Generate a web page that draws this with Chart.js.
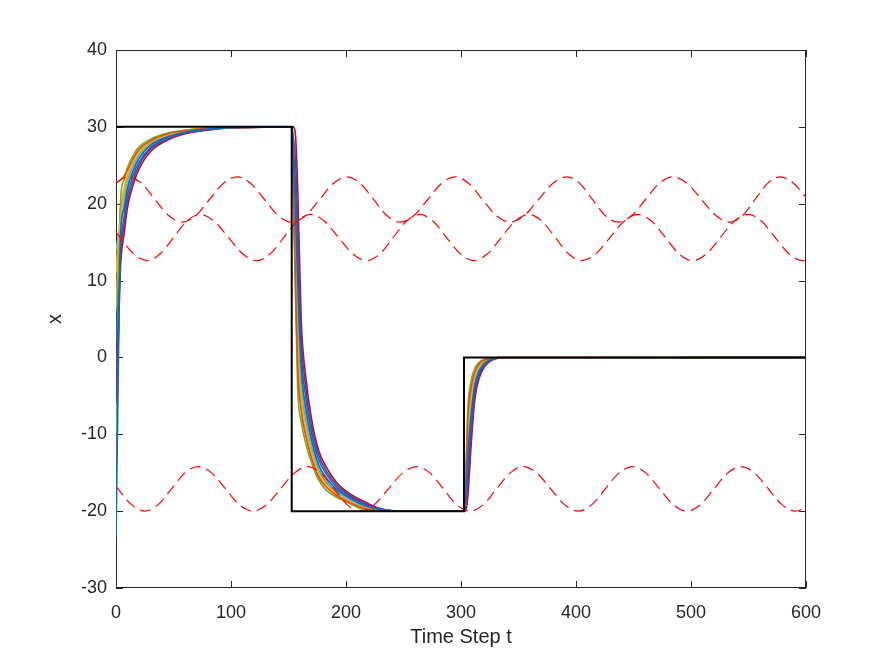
<!DOCTYPE html>
<html>
<head>
<meta charset="utf-8">
<script src="https://cdn.jsdelivr.net/npm/chart.js@4.4.0/dist/chart.umd.min.js"></script>
<style>
  html, body { margin: 0; padding: 0; background: #fff; }
  #wrap { width: 892px; height: 661px; }
</style>
</head>
<body>
<div id="wrap"><canvas id="chart" width="892" height="661"></canvas></div>
<script>
// ---- data ----
// shared time grid for the agent trajectories
const stepTimes = [0, 2, 4, 7, 10, 15, 20, 30, 45, 60, 80, 100, 152.8,
  154, 156, 158, 161, 165, 170, 176, 183, 192, 202, 215, 230, 250, 302.6,
  304, 306, 309, 312, 316, 321, 327, 335, 600];

const trajBlue = [-23.5, -1.7, 16.1, 19.4, 22.0, 24.3, 25.9, 27.6, 28.7, 29.3, 29.7, 29.9, 30,
  26.4, 19.3, 9.6, -1.3, -6.6, -10.7, -13.9, -15.7, -17.2, -18.2, -19.2, -19.8, -20, -20,
  -18.2, -12.6, -7.2, -3.6, -1.7, -0.7, -0.2, -0.04, 0];
const trajOrange = [22.8, 22.9, 23.1, 23.6, 24.4, 25.9, 27.1, 28.2, 29.1, 29.5, 29.8, 29.9, 30,
  23.2, 10.7, -1.4, -6.9, -10.2, -13.1, -15.5, -16.9, -18.0, -18.8, -19.6, -19.9, -20, -20,
  -16.6, -7.8, -3.8, -1.9, -0.8, -0.3, -0.08, 0, 0];
const trajYellow = [11, 15.4, 18.3, 21.3, 23.4, 25.3, 26.6, 28.0, 28.9, 29.5, 29.8, 29.9, 30,
  24.4, 14.0, 2.8, -4.8, -8.9, -12.2, -14.9, -16.5, -17.7, -18.6, -19.5, -19.9, -20, -20,
  -17.2, -9.6, -5.1, -2.5, -1.1, -0.45, -0.13, -0.02, 0];
const trajPurple = [-6, 4.7, 13.4, 17.1, 20.3, 23.1, 25.0, 27.1, 28.4, 29.2, 29.6, 29.9, 30,
  28.8, 25.8, 17.9, 2.9, -3.9, -8.9, -12.6, -14.8, -16.6, -17.8, -18.9, -19.7, -20, -20,
  -19.4, -16.2, -9.7, -4.9, -2.3, -1.0, -0.3, -0.07, 0];
const trajGreen = [-10.5, 8.2, 20.6, 23.1, 24.7, 26.3, 27.4, 28.4, 29.2, 29.6, 29.8, 29.95, 30,
  22.4, 8.6, -4.1, -8.3, -11.2, -13.7, -15.9, -17.3, -18.2, -18.9, -19.8, -20, -20, -20,
  -16.2, -6.6, -2.9, -1.4, -0.6, -0.2, -0.05, 0, 0];
const trajCyan = [14, 15.8, 17.0, 20.1, 22.5, 24.7, 26.2, 27.7, 28.8, 29.4, 29.7, 29.9, 30,
  25.6, 17.2, 6.9, -2.7, -7.5, -11.3, -14.3, -16.0, -17.4, -18.4, -19.3, -19.8, -20, -20,
  -17.8, -11.4, -6.3, -3.1, -1.5, -0.6, -0.2, -0.04, 0];
const trajRed = [-9, 2.6, 12, 16, 19.5, 22.5, 24.5, 26.8, 28.3, 29.1, 29.6, 29.85, 30,
  30, 29, 22, 5, -2.5, -8, -12, -14.3, -16.3, -17.6, -18.7, -19.7, -20, -20,
  -20, -18, -11, -5.5, -2.6, -1.1, -0.35, -0.08, 0];
const trajBlue2 = [2, 9.0, 14.7, 18.3, 21.2, 23.7, 25.4, 27.3, 28.6, 29.3, 29.7, 29.9, 30,
  27.6, 22.6, 13.8, 0.8, -5.2, -9.8, -13.2, -15.2, -16.9, -18.0, -19.0, -19.8, -20, -20,
  -18.8, -14.4, -8.5, -4.2, -2.0, -0.8, -0.25, -0.06, 0];
const trajOrange2 = [-16, 2.6, 17.9, 20.9, 23.1, 25.1, 26.5, 27.9, 28.9, 29.4, 29.8, 29.9, 30,
  24.8, 15.0, 4.1, -4.1, -8.4, -11.9, -14.7, -16.3, -17.6, -18.5, -19.4, -19.9, -20, -20,
  -17.4, -10.2, -5.5, -2.7, -1.2, -0.5, -0.14, -0.03, 0];
const trajYellow2 = [6, 13.9, 19.2, 22.0, 23.9, 25.7, 26.9, 28.2, 29.0, 29.5, 29.8, 29.9, 30,
  23.6, 11.8, 0, -6.2, -9.8, -12.8, -15.3, -16.8, -17.9, -18.7, -19.6, -19.9, -20, -20,
  -16.8, -8.4, -4.2, -2.1, -0.9, -0.35, -0.1, -0.02, 0];

const trajSeries = [trajBlue, trajOrange, trajYellow, trajPurple, trajGreen, trajCyan,
  trajRed, trajBlue2, trajOrange2, trajYellow2];
const trajColors = ['#0072BD', '#D95319', '#EDB120', '#7E2F8E', '#77AC30', '#4DBEEE',
  '#A2142F', '#0072BD', '#D95319', '#EDB120'];

// black reference signal
const refT = [0, 152.8, 152.8, 302.6, 302.6, 600];
const refV = [30, 30, -20, -20, 0, 0];

// red dashed bounds
const redUpperT = [0, 10.4, 22.2, 33.9, 45.7, 57.4, 69.4, 81.3, 93.3, 105.2, 117.2, 129.1, 141.1, 153,
  165, 177, 189, 200.9, 212.4, 224, 235.5, 247, 259, 271, 283, 294.8, 306.8, 318.7, 330.6, 342.6,
  355, 367.4, 379.8, 392.2, 403.3, 414.3, 425.4, 436.5, 448.5, 460.4, 472.4, 484.3, 496.7, 509.1,
  521.6, 534, 544.9, 555.7, 566.6, 577.4, 589.3, 600];
const redUpperV = [22.75, 23.5, 22.64, 20.55, 18.46, 17.6, 18.46, 20.55, 22.64, 23.5, 22.64, 20.55, 18.46, 17.6,
  18.46, 20.55, 22.64, 23.5, 22.64, 20.55, 18.46, 17.6, 18.46, 20.55, 22.64, 23.5, 22.64, 20.55, 18.46, 17.6,
  18.46, 20.55, 22.64, 23.5, 22.64, 20.55, 18.46, 17.6, 18.46, 20.55, 22.64, 23.5, 22.64, 20.55,
  18.46, 17.6, 18.46, 20.55, 22.64, 23.5, 22.64, 20.8];

const redMidT = [0, 3.5, 15.3, 27, 38.5, 50, 61.5, 73, 85.4, 97.8, 110.1, 122.5, 134.1, 145.8, 157.4, 169,
  181.3, 193.5, 205.8, 218, 229.5, 241, 252.5, 264, 275.8, 287.5, 299.3, 311, 323, 335, 347, 359,
  370.5, 382, 393.5, 405, 417.3, 429.5, 441.8, 454, 465.9, 477.8, 489.6, 501.5, 513.5, 525.5, 537.5, 549.5,
  561.4, 573.3, 585.1, 597, 600];
const redMidV = [16.3, 15.6, 13.48, 12.6, 13.48, 15.6, 17.72, 18.6, 17.72, 15.6, 13.48, 12.6, 13.48, 15.6, 17.72, 18.6,
  17.72, 15.6, 13.48, 12.6, 13.48, 15.6, 17.72, 18.6, 17.72, 15.6, 13.48, 12.6, 13.48, 15.6, 17.72, 18.6,
  17.72, 15.6, 13.48, 12.6, 13.48, 15.6, 17.72, 18.6, 17.72, 15.6, 13.48, 12.6, 13.48, 15.6, 17.72, 18.6,
  17.72, 15.6, 13.48, 12.6, 12.66];

const redLowT = [0, 1.7, 13.5, 25.2, 36.7, 48.3, 59.8, 71.3, 83.3, 95.2, 107.2, 119.1, 131.1, 143.1, 155, 167,
  178.3, 189.6, 200.9, 212.2, 224.5, 236.9, 249.2, 261.5, 273.1, 284.7, 296.2, 307.8, 319.4, 330.9, 342.5, 354,
  366, 378, 390, 402, 413.8, 425.5, 437.3, 449, 460.9, 472.8, 484.6, 496.5, 508.3, 520, 531.8, 543.5,
  555.4, 567.3, 579.1, 591, 600];
const redLowV = [-16.8, -17.1, -19.15, -20, -19.15, -17.1, -15.05, -14.2, -15.05, -17.1, -19.15, -20, -19.15, -17.1, -15.05, -14.2,
  -15.05, -17.1, -19.15, -20, -19.15, -17.1, -15.05, -14.2, -15.05, -17.1, -19.15, -20, -19.15, -17.1, -15.05, -14.2,
  -15.05, -17.1, -19.15, -20, -19.15, -17.1, -15.05, -14.2, -15.05, -17.1, -19.15, -20, -19.15, -17.1, -15.05, -14.2,
  -15.05, -17.1, -19.15, -20, -19.5];

const xTickStep = 100;
const yTickStep = 10;

// ---- chart ----
const FONT = "'Liberation Sans', Arial, Helvetica, sans-serif";
const AXIS = '#262626';
const toPts = (ts, vs) => ts.map((t, i) => ({ x: t, y: vs[i] }));

const datasets = [];
datasets.push({
  label: 'reference', data: toPts(refT, refV),
  borderColor: '#000000', borderWidth: 2, pointRadius: 0, tension: 0, order: 0
});
[[redUpperT, redUpperV], [redMidT, redMidV], [redLowT, redLowV]].forEach(([t, v], i) => {
  datasets.push({
    label: 'bound ' + (i + 1), data: toPts(t, v),
    borderColor: '#FF0000', borderWidth: 1.2, borderDash: [11, 6], pointRadius: 0,
    cubicInterpolationMode: 'monotone', order: 1
  });
});
trajSeries.forEach((vals, i) => {
  datasets.push({
    label: 'agent ' + (i + 1), data: toPts(stepTimes, vals),
    borderColor: trajColors[i], borderWidth: 1.6, pointRadius: 0,
    cubicInterpolationMode: 'monotone', order: 2
  });
});

// Octave-style box with inward ticks on all four sides
const boxAxes = {
  id: 'boxAxes',
  beforeDatasetsDraw(chart) {
    const { ctx, chartArea: a, scales: { x, y } } = chart;
    ctx.save();
    ctx.strokeStyle = AXIS;
    ctx.lineWidth = 1;
    ctx.strokeRect(a.left + 0.5, a.top + 0.5, a.right - a.left - 1, a.bottom - a.top - 1);
    ctx.beginPath();
    x.ticks.forEach(t => {
      const px = Math.round(x.getPixelForValue(t.value)) + 0.5;
      ctx.moveTo(px, a.bottom); ctx.lineTo(px, a.bottom - 7);
      ctx.moveTo(px, a.top); ctx.lineTo(px, a.top + 7);
    });
    y.ticks.forEach(t => {
      const py = Math.round(y.getPixelForValue(t.value)) + 0.5;
      ctx.moveTo(a.left, py); ctx.lineTo(a.left + 7, py);
      ctx.moveTo(a.right, py); ctx.lineTo(a.right - 7, py);
    });
    ctx.stroke();
    ctx.restore();
  }
};

new Chart(document.getElementById('chart'), {
  type: 'line',
  data: { datasets },
  options: {
    responsive: false,
    animation: false,
    layout: { padding: { top: 50, right: 86, bottom: 0, left: 0 } },
    plugins: { legend: { display: false }, tooltip: { enabled: false } },
    scales: {
      x: {
        type: 'linear', min: 0, max: 600,
        grid: { display: false, tickLength: 0 }, border: { display: false },
        ticks: { stepSize: xTickStep, color: AXIS, padding: 14, font: { family: FONT, size: 18 } },
        title: { display: true, text: 'Time Step t', color: AXIS,
                 font: { family: FONT, size: 20 }, padding: { top: 0, bottom: 12 } },
        afterFit: s => { s.height = 73; }
      },
      y: {
        type: 'linear', min: -30, max: 40,
        grid: { display: false, tickLength: 0 }, border: { display: false },
        ticks: { stepSize: yTickStep, color: AXIS, padding: 9, font: { family: FONT, size: 18 } },
        title: { display: true, text: 'x', color: AXIS,
                 font: { family: FONT, size: 20 }, padding: { top: 43, bottom: 0 } },
        afterFit: s => { s.width = 116; }
      }
    }
  },
  plugins: [boxAxes]
});
</script>
</body>
</html>
